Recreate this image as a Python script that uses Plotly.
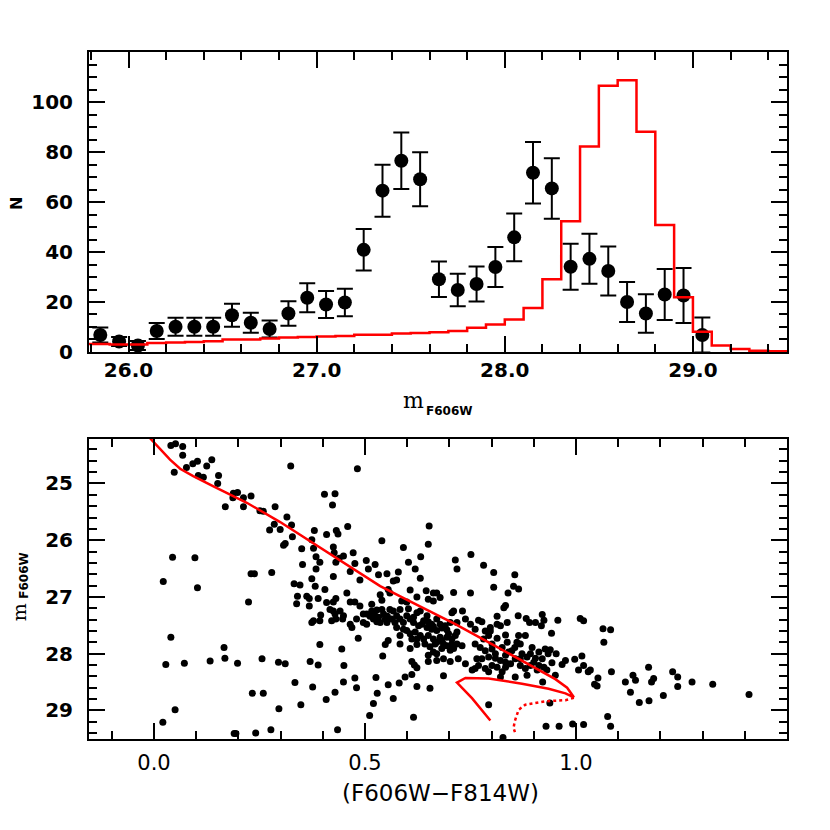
import plotly.graph_objects as go

W = H = 830
OFF_X = 8  # the page puts the figure 8 px right of the window edge
OFF_Y = 0

# ---- luminosity function (observed, completeness corrected) ----
lf_mag = [25.85, 25.95, 26.05, 26.15, 26.25, 26.35, 26.45, 26.55, 26.65, 26.75,
          26.85, 26.95, 27.05, 27.15, 27.25, 27.35, 27.45, 27.55, 27.65, 27.75,
          27.85, 27.95, 28.05, 28.15, 28.25, 28.35, 28.45, 28.55, 28.65, 28.75,
          28.85, 28.95, 29.05]
lf_n = [6.8, 4.2, 2.6, 8.4, 10.1, 10.1, 10.1, 14.7, 11.7, 9.2,
        15.4, 21.7, 19.0, 19.8, 40.9, 64.6, 76.6, 69.2, 29.1, 24.8,
        27.2, 34.0, 45.9, 71.8, 65.5, 34.1, 37.3, 32.4, 20.0, 15.4,
        23.0, 22.6, 6.8]
lf_err = [3.0, 1.8, 1.8, 3.2, 3.6, 3.6, 3.6, 4.6, 4.0, 3.4,
          4.9, 5.8, 5.4, 5.5, 8.3, 10.4, 11.3, 10.8, 7.1, 6.5,
          7.0, 8.0, 9.6, 12.3, 12.1, 9.2, 10.0, 9.8, 8.0, 7.7,
          10.2, 11.0, 7.0]

# ---- model luminosity function (bin centres) ----
model_mag = [25.75, 25.85, 25.95, 26.05, 26.15, 26.25, 26.35, 26.45, 26.55, 26.65,
             26.75, 26.85, 26.95, 27.05, 27.15, 27.25, 27.35, 27.45, 27.55, 27.65,
             27.75, 27.85, 27.95, 28.05, 28.15, 28.25, 28.35, 28.45, 28.55, 28.65,
             28.75, 28.85, 28.95, 29.05, 29.15, 29.25, 29.35, 29.45, 29.55]
model_n = [3.2, 3.2, 3.0, 3.0, 3.6, 3.8, 4.0, 4.3, 5.0, 5.0,
           5.4, 5.8, 6.0, 6.2, 6.4, 6.9, 6.9, 7.4, 7.6, 7.9,
           8.4, 9.7, 11.0, 13.0, 17.6, 29.1, 52.4, 82.3, 106.6, 108.8,
           88.2, 50.8, 21.9, 8.1, 2.6, 1.2, 0.5, 0.3, 0.3]

# ---- colour-magnitude diagram ----
cmd_color = [
    0.040, 0.051, 0.068, 0.068, 0.048, 0.077, 0.092, 0.103, 0.125, 0.137,
    0.105, 0.117, 0.153, 0.151, 0.169, 0.188, 0.198, 0.187, 0.212, 0.230,
    0.212, 0.251, 0.259, 0.287, 0.315, 0.326, 0.285, 0.299, 0.274, 0.328,
    0.307, 0.311, 0.324, 0.044, 0.097, 0.022, 0.103, 0.040, 0.028, 0.072,
    0.050, 0.021, 0.224, 0.230, 0.238, 0.279, 0.166, 0.168, 0.133, 0.198,
    0.256, 0.233, 0.259, 0.296, 0.295, 0.311, 0.334, 0.190, 0.194, 0.241,
    0.277, 0.332, 0.346, 0.340, 0.338,
    0.482, 0.404, 0.429, 0.423, 0.409, 0.432, 0.436, 0.459, 0.380, 0.652,
    0.374,
    0.425, 0.427, 0.378, 0.384, 0.449, 0.472, 0.540, 0.591, 0.650, 0.632,
    0.393, 0.431, 0.439, 0.476, 0.503, 0.524, 0.508, 0.384, 0.425, 0.465,
    0.532, 0.552, 0.579, 0.488, 0.567, 0.575, 0.607, 0.631, 0.603, 0.619,
    0.714, 0.718, 0.374, 0.382, 0.405, 0.650, 0.645, 0.662, 0.670, 0.662,
    0.678, 0.710, 0.623, 0.599, 0.587, 0.555, 0.559, 0.536, 0.540, 0.516,
    0.488, 0.465, 0.457, 0.476, 0.431, 0.425, 0.409, 0.389, 0.368, 0.368,
    0.362, 0.417, 0.425, 0.441, 0.429, 0.449, 0.421, 0.431, 0.447, 0.378,
    0.374, 0.393, 0.395, 0.465, 0.469, 0.480, 0.496, 0.504, 0.512, 0.516,
    0.524, 0.528, 0.540, 0.544, 0.548, 0.528, 0.536, 0.520, 0.552, 0.559,
    0.567, 0.583, 0.575, 0.583, 0.599, 0.603, 0.607, 0.623, 0.631, 0.615,
    0.627, 0.639, 0.647, 0.647, 0.658, 0.658, 0.670, 0.670, 0.682, 0.690,
    0.694, 0.706, 0.710, 0.718, 0.718, 0.702, 0.575, 0.591, 0.599, 0.607,
    0.619, 0.631, 0.639, 0.650, 0.662, 0.678, 0.694, 0.714, 0.484, 0.504,
    0.496, 0.555, 0.548, 0.583, 0.607, 0.623, 0.650, 0.662, 0.670, 0.682,
    0.686, 0.702, 0.706, 0.718, 0.666, 0.686, 0.393, 0.445, 0.542, 0.370,
    0.389, 0.450, 0.611, 0.617, 0.623, 0.650, 0.670, 0.702, 0.721, 0.476,
    0.526, 0.595, 0.611, 0.686, 0.555, 0.581, 0.623, 0.654, 0.449, 0.376,
    0.429, 0.529, 0.480, 0.408, 0.567, 0.520,
    0.516, 0.532, 0.553, 0.563, 0.571, 0.591, 0.615, 0.635, 0.650, 0.662,
    0.678, 0.698, 0.706, 0.583, 0.611, 0.623, 0.642, 0.654, 0.670, 0.682,
    0.694, 0.710,
    0.511, 0.615, 0.435, 0.348, 0.352, 0.350,
    0.781, 0.805, 0.855, 0.805, 0.839, 0.852, 0.864, 0.750, 0.833, 0.829,
    0.731, 0.738, 0.769, 0.777, 0.750, 0.813, 0.813, 0.797, 0.785, 0.797,
    0.821, 0.837, 0.863, 0.882, 0.890, 0.904, 0.920, 0.924, 0.918, 0.957,
    1.010, 1.018, 1.064, 1.082, 1.066, 0.942, 0.880, 0.864, 0.860, 0.833,
    0.813, 0.793, 0.837, 0.730, 0.761, 0.773, 0.785, 0.801, 0.855, 0.868,
    0.848, 0.765, 0.777, 0.793, 0.809, 0.821, 0.833, 0.845, 0.801, 0.813,
    0.833, 0.825, 0.793, 0.761, 0.754, 0.738, 0.856, 0.868, 0.884, 0.892,
    0.904, 0.900, 0.912, 0.924, 0.931, 0.892, 0.880, 0.884, 0.856, 0.821,
    0.927, 0.939, 0.934, 0.953, 0.943, 0.967, 0.975, 0.997, 1.014, 1.006,
    1.018, 1.029, 1.034, 0.951, 0.921, 1.052, 1.084, 1.044, 1.050, 0.793,
    0.938, 1.075, 0.929, 0.960, 0.992, 1.018, 1.082,
    0.761, 0.781, 0.801, 0.825, 0.840, 0.809, 0.872, 0.896, 0.912, 0.920,
    0.769, 0.785, 0.833, 0.868, 0.908,
    0.751, 1.117, 1.135, 1.141, 1.129, 1.150, 1.172, 1.179, 1.184, 1.173,
    1.207, 1.229, 1.241, 1.241, 1.275, 1.324, 1.410, 0.827,
]
cmd_mag = [
    24.33, 24.30, 24.35, 24.50, 24.80, 24.72, 24.65, 24.61, 24.69, 24.58,
    24.86, 24.89, 24.86, 25.00, 25.41, 25.17, 25.16, 25.25, 25.25, 25.22,
    25.41, 25.48, 25.49, 25.41, 25.59, 25.73, 25.72, 25.81, 25.82, 25.94,
    26.09, 26.06, 24.69, 26.30, 26.31, 26.73, 26.84, 27.71, 28.19, 28.17,
    28.99, 29.21, 27.09, 26.59, 26.59, 26.57, 27.89, 28.08, 28.13, 28.17,
    28.09, 28.70, 28.70, 28.97, 28.15, 28.18, 28.51, 29.41, 29.41, 29.40,
    29.34, 26.77, 26.79, 26.99, 27.12,
    24.74, 25.19, 25.18, 25.38, 25.90, 25.83, 25.89, 25.76, 25.83, 25.75,
    25.99,
    26.12, 26.22, 26.14, 26.29, 26.28, 26.22, 26.01, 26.13, 26.07, 26.29,
    26.39, 26.39, 26.32, 26.41, 26.36, 26.43, 26.51, 26.51, 26.64, 26.55,
    26.61, 26.59, 26.56, 26.70, 26.72, 26.70, 26.88, 26.67, 26.39, 26.51,
    26.35, 26.51, 26.68, 26.81, 26.87, 27.04, 26.89, 26.93, 26.93, 27.07,
    27.01, 26.92, 27.00, 27.09, 27.07, 26.87, 26.93, 26.96, 27.06, 27.13,
    27.16, 27.09, 26.93, 27.09, 27.03, 27.09, 27.10, 27.03, 27.03, 27.16,
    26.99, 27.22, 27.25, 27.25, 27.30, 27.33, 27.42, 27.39, 27.39, 27.42,
    27.45, 27.42, 27.32, 27.48, 27.54, 27.39, 27.30, 27.30, 27.34, 27.25,
    27.33, 27.23, 27.22, 27.30, 27.39, 27.44, 27.45, 27.39, 27.45, 27.22,
    27.25, 27.22, 27.33, 27.39, 27.33, 27.21, 27.39, 27.28, 27.25, 27.45,
    27.51, 27.42, 27.33, 27.54, 27.48, 27.57, 27.39, 27.59, 27.55, 27.51,
    27.58, 27.28, 27.25, 27.45, 27.62, 27.45, 27.54, 27.57, 27.59, 27.65,
    27.62, 27.68, 27.74, 27.68, 27.74, 27.71, 27.71, 27.68, 27.73, 27.48,
    27.45, 27.77, 27.84, 27.83, 27.91, 27.84, 28.03, 27.97, 28.00, 27.91,
    28.09, 27.94, 27.83, 27.83, 27.83, 27.83, 27.84, 27.92, 28.04, 28.14,
    28.20, 28.21, 28.14, 28.20, 28.25, 28.14, 28.12, 28.14, 28.09, 28.43,
    28.42, 28.41, 28.37, 28.39, 28.55, 28.52, 28.58, 28.61, 28.50, 28.59,
    28.68, 28.70, 28.60, 28.81, 28.79, 28.88,
    27.29, 27.36, 27.34, 27.39, 27.45, 27.45, 27.36, 27.48, 27.44, 27.52,
    27.48, 27.65, 27.74, 27.68, 27.74, 27.74, 27.83, 27.88, 27.80, 27.77,
    27.86, 27.91,
    29.09, 29.12, 29.34, 28.90, 26.43, 26.15,
    26.44, 26.57, 26.61, 26.83, 26.93, 26.81, 26.86, 26.93, 27.15, 27.19,
    27.25, 27.39, 27.41, 27.44, 27.48, 27.34, 27.48, 27.54, 27.60, 27.60,
    27.51, 27.45, 27.33, 27.38, 27.45, 27.45, 27.31, 27.41, 27.51, 27.41,
    27.38, 27.42, 27.56, 27.58, 27.80, 27.64, 27.68, 27.68, 27.80, 27.67,
    27.73, 27.68, 27.80, 27.86, 27.83, 27.89, 27.95, 27.92, 27.89, 27.83,
    27.95, 28.09, 28.09, 28.06, 28.08, 28.12, 28.15, 28.18, 28.21, 28.24,
    28.24, 28.32, 28.32, 28.26, 28.29, 28.18, 28.09, 28.09, 28.06, 28.00,
    28.08, 28.15, 28.21, 28.24, 28.29, 28.21, 28.26, 28.38, 28.41, 28.41,
    27.92, 27.93, 28.00, 28.00, 28.16, 28.19, 28.12, 28.10, 28.04, 28.29,
    28.21, 28.32, 28.29, 28.38, 28.50, 28.43, 28.32, 28.54, 28.57, 28.90,
    28.87, 29.11, 29.28, 29.28, 29.24, 29.25, 29.28,
    27.57, 27.74, 27.83, 27.89, 27.97, 28.00, 28.00, 27.89, 27.97, 28.09,
    28.21, 28.26, 28.03, 28.21, 28.29,
    26.25, 28.50, 28.38, 28.47, 28.68, 28.86, 28.24, 28.50, 28.44, 28.83,
    28.74, 28.32, 28.41, 28.58, 28.50, 28.54, 28.72, 29.48,
]

# ---- isochrone (solid part and dotted tail) ----
iso_color = [-0.012, 0.014, 0.038, 0.062, 0.093, 0.141, 0.180, 0.220, 0.299, 0.378,
             0.457, 0.536, 0.615, 0.714, 0.793, 0.872, 0.951, 0.979, 0.995,
             0.975, 0.951, 0.935, 0.872, 0.793, 0.738, 0.718, 0.754, 0.797]
iso_mag = [24.18, 24.38, 24.58, 24.74, 24.87, 25.05, 25.19, 25.34, 25.68, 26.06,
           26.44, 26.81, 27.11, 27.48, 27.80, 28.12, 28.45, 28.60, 28.77,
           28.70, 28.66, 28.62, 28.53, 28.44, 28.43, 28.51, 28.79, 29.18]
tail_color = [0.995, 0.975, 0.927, 0.880, 0.864, 0.855, 0.852, 0.856]
tail_mag = [28.78, 28.82, 28.84, 28.90, 28.99, 29.19, 29.31, 29.40]

RED = "#ff0000"
FONT = "DejaVu Sans"

fig = go.Figure()

# top panel
fig.add_trace(go.Scatter(
    x=lf_mag, y=lf_n, mode="markers",
    marker=dict(size=14, color="black"),
    error_y=dict(type="data", array=lf_err, color="black", thickness=2, width=8),
    xaxis="x", yaxis="y",
))
fig.add_trace(go.Scatter(
    x=model_mag, y=model_n, mode="lines",
    line=dict(color=RED, width=2.5, shape="hvh"),
    xaxis="x", yaxis="y",
))

# bottom panel
fig.add_trace(go.Scatter(
    x=cmd_color, y=cmd_mag, mode="markers",
    marker=dict(size=7, color="black"),
    xaxis="x2", yaxis="y2",
))
fig.add_trace(go.Scatter(
    x=iso_color, y=iso_mag, mode="lines",
    line=dict(color=RED, width=2.5),
    xaxis="x2", yaxis="y2",
))
fig.add_trace(go.Scatter(
    x=tail_color, y=tail_mag, mode="lines",
    line=dict(color=RED, width=2.5, dash="dot"),
    xaxis="x2", yaxis="y2",
))


def px_x(px):
    return (px - OFF_X) / W


def px_y(py):
    return 1 - (py - OFF_Y) / H


def minor(tick0, dtick):
    return dict(ticks="inside", ticklen=8, tickwidth=2, tickcolor="black",
                tick0=tick0, dtick=dtick, showgrid=False)


def frame(**kw):
    ax = dict(
        showline=True, linecolor="black", linewidth=2, mirror="allticks",
        ticks="inside", ticklen=16, tickwidth=2, tickcolor="black",
        showgrid=False, zeroline=False, ticklabelstandoff=10,
        tickfont=dict(family=FONT, size=20, color="black", weight="bold"),
    )
    ax.update(kw)
    return ax


xdom = [px_x(89), px_x(787)]
fig.update_layout(
    width=W, height=H,
    margin=dict(l=0, r=0, t=0, b=0),
    paper_bgcolor="white", plot_bgcolor="white",
    showlegend=False,
    xaxis=frame(domain=xdom, anchor="y", range=[25.79, 29.5],
                tickvals=[26, 27, 28, 29], ticktext=["26.0", "27.0", "28.0", "29.0"],
                ticklabelstandoff=-1, minor=minor(26, 0.2)),
    yaxis=frame(domain=[px_y(349), px_y(45)], anchor="x", range=[0, 120],
                tickvals=[0, 20, 40, 60, 80, 100], minor=minor(0, 5)),
    xaxis2=frame(domain=xdom, anchor="y2", range=[-0.154, 1.5],
                 tickvals=[0, 0.5, 1.0], ticktext=["0.0", "0.5", "1.0"],
                 tickfont=dict(family=FONT, size=21, color="black"),
                 ticklabelstandoff=4, minor=minor(0, 0.1)),
    yaxis2=frame(domain=[px_y(742), px_y(437)], anchor="x2", range=[29.51, 24.21],
                 tickvals=[25, 26, 27, 28, 29], minor=minor(25, 0.2)),
)


def label(text, px, py, size, family=FONT, weight="normal", angle=0):
    fig.add_annotation(
        text=text, x=px_x(px), y=px_y(py), xref="paper", yref="paper",
        xanchor="center", yanchor="middle", showarrow=False, textangle=angle,
        font=dict(family=family, size=size, color="black", weight=weight),
    )


label("N", 16, 199, 16, weight="bold", angle=-90)
label("m", 413, 398, 22, family="DejaVu Serif")
label("F606W", 449, 409, 12, weight="bold")
label("m", 19, 613, 19, family="DejaVu Serif", angle=-90)
label("F606W", 24, 576, 12, weight="bold", angle=-90)
label("(F606W\u2212F814W)", 440, 797, 23)

fig.write_html("out.html")
